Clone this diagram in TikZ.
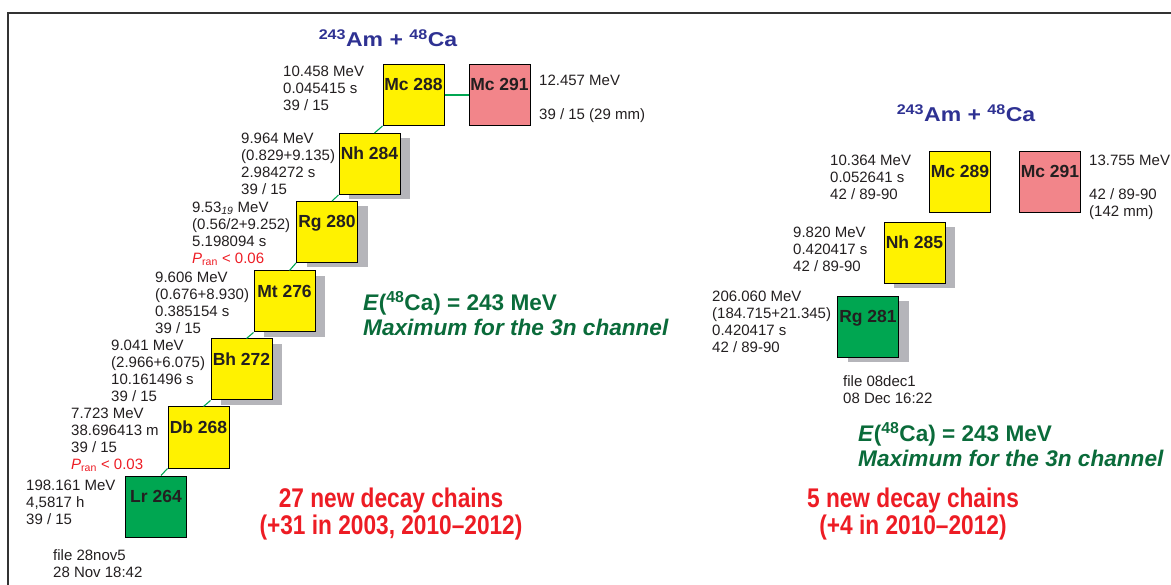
\documentclass[tikz,border=0pt]{standalone}
\usepackage{fontspec}
\setmainfont{Liberation Sans}
\newfontfamily\narrowfont[FakeStretch=0.84]{Liberation Sans}
\newfontfamily\widefont[FakeStretch=1.15]{Liberation Sans}
\definecolor{txt}{HTML}{231F20}
\definecolor{nucyellow}{HTML}{FFF200}
\definecolor{nucpink}{HTML}{F2858A}
\definecolor{nucgreen}{HTML}{00A651}
\definecolor{shgray}{HTML}{B5B5BA}
\definecolor{linegreen}{HTML}{00A651}
\definecolor{redtxt}{HTML}{ED1C24}
\definecolor{navy}{HTML}{2E3192}
\definecolor{dgreen}{HTML}{0A6B3A}
\definecolor{framegray}{HTML}{333333}
\begin{document}
\begin{tikzpicture}[x=1pt,y=-1pt,
  nuc/.style={draw=black, line width=1pt, minimum width=61pt, minimum height=61pt,
    inner sep=0pt, font=\fontsize{17.5}{20}\selectfont\bfseries, text=txt,
    text height=0pt, text depth=8pt},
  shadowed/.style={preaction={fill=shgray, draw=none, transform canvas={xshift=10pt,yshift=-5pt}}},
  info/.style={anchor=north west, inner sep=0pt, align=left,
    font=\fontsize{15}{17}\selectfont, text=txt, execute at begin node=\strut},
  energy/.style={anchor=north west, inner sep=0pt, align=left,
    font=\fontsize{22.6}{25}\selectfont\bfseries, text=dgreen, execute at begin node=\strut},
  chains/.style={anchor=north, inner sep=0pt, align=center,
    font=\narrowfont\bfseries\fontsize{27}{25}\selectfont, text=redtxt, execute at begin node=\strut},
  reaction/.style={anchor=base, inner sep=0pt,
    font=\widefont\bfseries\fontsize{20}{24}\selectfont, text=navy},
  link/.style={draw=linegreen, line width=1.1pt}
]
\useasboundingbox (0,0) rectangle (1171,585);
\draw[framegray, line width=2pt] (1171,13) -- (8,13) -- (8,585);

% titles
\node[reaction] (titleL) at (388,47) {\textsuperscript{243}Am + \textsuperscript{48}Ca};
\node[reaction] (titleR) at (966,122) {\textsuperscript{243}Am + \textsuperscript{48}Ca};

% left chain
\node[nuc, fill=nucyellow] (mc288) at (413.5,95) {Mc 288};
\node[nuc, fill=nucpink] (mc291a) at (499.5,95) {Mc 291};
\node[nuc, shadowed, fill=nucyellow] (nh284) at (369.5,164) {Nh 284};
\node[nuc, shadowed, fill=nucyellow] (rg280) at (327,232) {Rg 280};
\node[nuc, shadowed, fill=nucyellow] (mt276) at (284.5,301.5) {Mt 276};
\node[nuc, shadowed, fill=nucyellow] (bh272) at (241.5,369.5) {Bh 272};
\node[nuc, fill=nucyellow] (db268) at (198.5,437.5) {Db 268};
\node[nuc, fill=nucgreen] (lr264) at (156,506.5) {Lr 264};

\draw[link] (mc288.east) -- (mc291a.west);
\draw[link] (mc288.south west) -- ([xshift=5pt]nh284.north);
\draw[link] (nh284.south west) -- ([xshift=5pt]rg280.north);
\draw[link] (rg280.south west) -- ([xshift=5pt]mt276.north);
\draw[link] (mt276.south west) -- ([xshift=5pt]bh272.north);
\draw[link] (bh272.south west) -- ([xshift=5pt]db268.north);
\draw[link] (db268.south west) -- ([xshift=5pt]lr264.north);

\node[info] (i288) at (283,65.5) {10.458 MeV\\0.045415 s\\39 / 15};
\node[info] (i291a) at (539,74.5) {12.457 MeV\\\mbox{}\\39 / 15 (29 mm)};
\node[info] (i284) at (241,132.5) {9.964 MeV\\(0.829+9.135)\\2.984272 s\\39 / 15};
\node[info] (i280) at (192,201.5) {9.53\textsubscript{\textit{19}} MeV\\(0.56/2+9.252)\\5.198094 s\\{\color{redtxt}\textit{P}\textsubscript{ran} < 0.06}};
\node[info] (i276) at (155,271.5) {9.606 MeV\\(0.676+8.930)\\0.385154 s\\39 / 15};
\node[info] (i272) at (111,339.5) {9.041 MeV\\(2.966+6.075)\\10.161496 s\\39 / 15};
\node[info] (i268) at (71,407.5) {7.723 MeV\\38.696413 m\\39 / 15\\{\color{redtxt}\textit{P}\textsubscript{ran} < 0.03}};
\node[info] (i264) at (26,479.5) {198.161 MeV\\4,5817 h\\39 / 15};
\node[info] (fileL) at (53,549.5) {file 28nov5\\28 Nov 18:42};

\node[energy] (enL) at (363,291.4) {\textit{E}(\textsuperscript{48}Ca) = 243 MeV\\\textit{Maximum for the 3n channel}};
\node[chains] (chL) at (391,488.2) {27 new decay chains\\(+31 in 2003, 2010–2012)};

% right chain
\node[nuc, fill=nucyellow] (mc289) at (960,182) {Mc 289};
\node[nuc, fill=nucpink] (mc291b) at (1050,182) {Mc 291};
\node[nuc, shadowed, fill=nucyellow] (nh285) at (914.5,253) {Nh 285};
\node[nuc, shadowed, fill=nucgreen] (rg281) at (868,327) {Rg 281};

\node[info] (i289) at (830,154.5) {10.364 MeV\\0.052641 s\\42 / 89-90};
\node[info] (i291b) at (1089,154.5) {13.755 MeV\\\mbox{}\\42 / 89-90\\(142 mm)};
\node[info] (i285) at (793,226.5) {9.820 MeV\\0.420417 s\\42 / 89-90};
\node[info] (i281) at (712,290.5) {206.060 MeV\\(184.715+21.345)\\0.420417 s\\42 / 89-90};
\node[info] (fileR) at (843,375.5) {file 08dec1\\08 Dec 16:22};

\node[energy] (enR) at (858,422.4) {\textit{E}(\textsuperscript{48}Ca) = 243 MeV\\\textit{Maximum for the 3n channel}};
\node[chains] (chR) at (913,488.2) {5 new decay chains\\(+4 in 2010–2012)};
\end{tikzpicture}
\end{document}
